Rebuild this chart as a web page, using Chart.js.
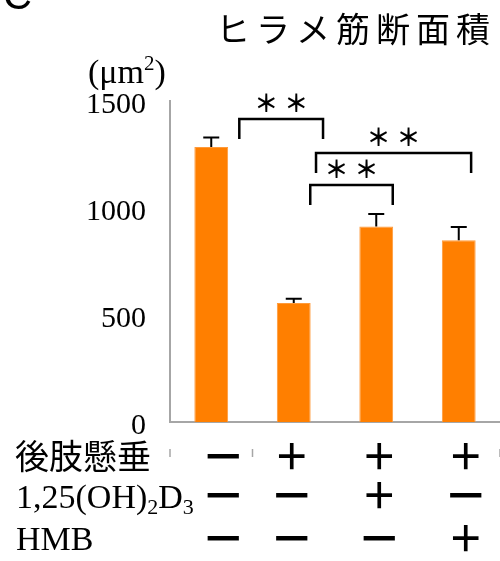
<!DOCTYPE html>
<html><head><meta charset="utf-8">
<script src="https://cdn.jsdelivr.net/npm/chart.js@4"></script>
<style>html,body{margin:0;padding:0;background:#fff}#wrap{width:500px;height:561px}</style>
</head><body><div id="wrap"><canvas id="c" width="500" height="561"></canvas></div>
<script>
const groups = ['対照', '後肢懸垂', '後肢懸垂+1,25(OH)2D3', '後肢懸垂+HMB'];
const areaMean = [1285, 556, 914, 849];
const areaSE = [44, 20, 58, 62];
const yTicks = [0, 500, 1000, 1500];
const rowSuspension = ['－', '＋', '＋', '＋'];
const rowVitD = ['－', '－', '＋', '－'];
const rowHMB = ['－', '－', '－', '＋'];
const sigLabels = ['＊＊', '＊＊', '＊＊'];
const bracketTop = [1416, 1257, 1107];
const bracketLeg = [1322, 1164, 1014];
const bracketFrom = [0.34, 1.27, 1.2];
const bracketTo = [1.355, 3.15, 2.2];

const SERIF = '"Liberation Serif", "Times New Roman", serif';
const CJK = '"Noto Sans CJK JP", sans-serif';
const symOffset = [12, -2, 3, 7];

function spacedText(ctx, str, cx, cy, spacing) {
  try { ctx.letterSpacing = spacing + 'px'; } catch (e) {}
  const w = ctx.measureText(str).width - spacing;
  ctx.textAlign = 'left';
  ctx.fillText(str, cx - w / 2, cy);
  try { ctx.letterSpacing = '0px'; } catch (e) {}
}

const deco = {
  id: 'deco',
  afterDatasetsDraw(chart) {
    const { ctx, scales: { x, y } } = chart;
    const meta = chart.getDatasetMeta(0);
    const step = x.getPixelForValue(1) - x.getPixelForValue(0);
    const fx = f => x.getPixelForValue(0) + f * step;
    ctx.save();
    ctx.strokeStyle = '#000'; ctx.lineWidth = 2;
    meta.data.forEach((bar, i) => {
      const t = y.getPixelForValue(areaMean[i] + areaSE[i]);
      ctx.beginPath();
      ctx.moveTo(bar.x, bar.y); ctx.lineTo(bar.x, t);
      ctx.moveTo(bar.x - 8, t); ctx.lineTo(bar.x + 8, t);
      ctx.stroke();
    });
    ctx.lineWidth = 2.5;
    for (let k = 0; k < bracketTop.length; k++) {
      const x1 = fx(bracketFrom[k]), x2 = fx(bracketTo[k]);
      const t = y.getPixelForValue(bracketTop[k]), l = y.getPixelForValue(bracketLeg[k]);
      ctx.beginPath();
      ctx.moveTo(x1, l); ctx.lineTo(x1, t); ctx.lineTo(x2, t); ctx.lineTo(x2, l);
      ctx.stroke();
      ctx.fillStyle = '#000';
      ctx.font = '700 24px ' + CJK;
      ctx.textBaseline = 'middle';
      spacedText(ctx, sigLabels[k], (x1 + x2) / 2, t - 16, 6);
    }
    ctx.restore();
  },
  afterDraw(chart) {
    const { ctx, scales: { x, y } } = chart;
    ctx.save();
    ctx.fillStyle = '#000';
    ctx.font = '40px "Liberation Sans", Arial, sans-serif';
    ctx.textAlign = 'left'; ctx.textBaseline = 'alphabetic';
    ctx.fillText('C', 3, 9);
    ctx.font = '34px ' + CJK;
    ctx.textBaseline = 'middle';
    try { ctx.letterSpacing = '6px'; } catch (e) {}
    ctx.fillText('ヒラメ筋断面積', 216, 29);
    try { ctx.letterSpacing = '0px'; } catch (e) {}
    ctx.textBaseline = 'alphabetic';
    ctx.font = '34px ' + SERIF;
    let ux = 88;
    const uy = 83;
    ctx.fillText('(μm', ux, uy); ux += ctx.measureText('(μm').width;
    ctx.font = '21px ' + SERIF;
    ctx.fillText('2', ux, uy - 13); ux += ctx.measureText('2').width;
    ctx.font = '34px ' + SERIF;
    ctx.fillText(')', ux, uy);
    const step = x.getPixelForValue(1) - x.getPixelForValue(0);
    ctx.strokeStyle = '#A6A6A6'; ctx.lineWidth = 1.5;
    [0, 1, 4].forEach(b => {
      const bx = x.getPixelForValue(0) - step / 2 + b * step;
      ctx.beginPath(); ctx.moveTo(bx, 449); ctx.lineTo(bx, 457); ctx.stroke();
    });
    ctx.textAlign = 'left';
    ctx.textBaseline = 'middle';
    ctx.font = '34px ' + CJK;
    ctx.fillText('後肢懸垂', 15, 456);
    ctx.textBaseline = 'alphabetic';
    ctx.font = '34px ' + SERIF;
    let lx = 16;
    const ly = 508;
    ctx.fillText('1,25(OH)', lx, ly); lx += ctx.measureText('1,25(OH)').width;
    ctx.font = '22px ' + SERIF;
    ctx.fillText('2', lx, ly + 6); lx += ctx.measureText('2').width;
    ctx.font = '34px ' + SERIF;
    ctx.fillText('D', lx, ly); lx += ctx.measureText('D').width;
    ctx.font = '22px ' + SERIF;
    ctx.fillText('3', lx, ly + 6);
    ctx.font = '34px ' + SERIF;
    ctx.fillText('HMB', 16, 550);
    ctx.textAlign = 'center'; ctx.textBaseline = 'middle';
    const rows = [[rowSuspension, 456], [rowVitD, 495], [rowHMB, 538]];
    rows.forEach(([r, ry]) => {
      r.forEach((s, i) => {
        ctx.font = (s === '－' ? '700 44px ' : '700 36px ') + CJK;
        ctx.fillText(s, x.getPixelForValue(i) + symOffset[i], ry);
      });
    });
    ctx.restore();
  }
};

new Chart(document.getElementById('c'), {
  type: 'bar',
  data: {
    labels: groups,
    datasets: [{
      data: areaMean,
      backgroundColor: '#FF7F00',
      borderColor: '#FF9A3A',
      borderWidth: 1,
      barPercentage: 0.41,
      categoryPercentage: 1
    }]
  },
  options: {
    responsive: false,
    animation: false,
    devicePixelRatio: 1,
    layout: { padding: { top: 101, left: 0, right: 0, bottom: 0 } },
    plugins: { legend: { display: false }, tooltip: { enabled: false }, title: { display: false } },
    scales: {
      x: {
        grid: { display: false, drawTicks: false },
        border: { display: true, color: '#A6A6A6', width: 2 },
        ticks: { display: false },
        afterFit(s) { s.height = 139; }
      },
      y: {
        min: 0, max: 1500,
        grid: { display: false, drawTicks: false },
        border: { display: true, color: '#A6A6A6', width: 2 },
        afterBuildTicks(s) { s.ticks = yTicks.map(v => ({ value: v })); },
        ticks: { color: '#000', padding: 24, labelOffset: 4, font: { family: SERIF, size: 30 }, callback: v => String(v) },
        afterFit(s) { s.width = 170; }
      }
    }
  },
  plugins: [deco]
});
</script></body></html>
